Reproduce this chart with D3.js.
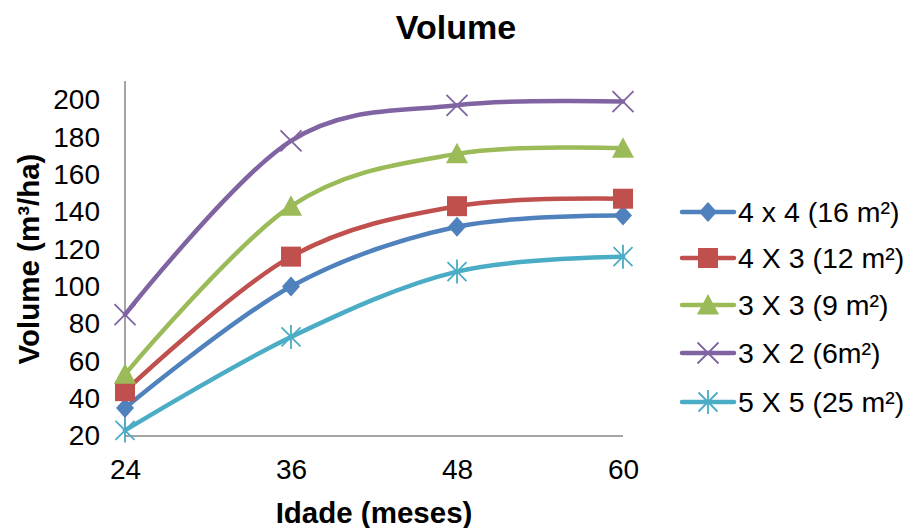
<!DOCTYPE html>
<html>
<head>
<meta charset="utf-8">
<script src="https://cdn.jsdelivr.net/npm/d3@7"></script>
<style>
  html, body { margin: 0; padding: 0; background: #fff; }
  svg { display: block; font-family: "Liberation Sans", Arial, sans-serif; }
</style>
</head>
<body>
<svg id="chart" width="913" height="528"></svg>
<script>
const categories = ["24", "36", "48", "60"];
const seriesNames = ["4 x 4 (16 m²)", "4 X 3 (12 m²)", "3 X 3 (9 m²)", "3 X 2 (6m²)", "5 X 5 (25 m²)"];
const s4x4 = [35, 100, 132, 138];
const s4x3 = [44, 116, 143, 147];
const s3x3 = [53, 143, 171, 174];
const s3x2 = [85, 178, 197, 199];
const s5x5 = [23, 73, 108, 116];
const yTicks = [20, 40, 60, 80, 100, 120, 140, 160, 180, 200];
const colors = ["#4F81BD", "#C0504D", "#9BBB59", "#8064A2", "#4BACC6"];
const markers = ["diamond", "square", "triangle", "x", "star"];

const series = [s4x4, s4x3, s3x3, s3x2, s5x5].map((v, i) => ({
  name: seriesNames[i], values: v, color: colors[i], marker: markers[i]
}));

const svg = d3.select("#chart");
const plot = { left: 125, right: 623, top: 81, bottom: 436 };

const x = d3.scalePoint().domain(categories).range([plot.left, plot.right]);
const y = d3.scaleLinear().domain([20, 210]).range([plot.bottom, plot.top]);

const axisColor = "#868686";
svg.append("line").attr("x1", plot.left).attr("x2", plot.left)
  .attr("y1", plot.top).attr("y2", plot.bottom)
  .attr("stroke", axisColor).attr("stroke-width", 1.5);
svg.append("line").attr("x1", plot.left).attr("x2", plot.right)
  .attr("y1", plot.bottom).attr("y2", plot.bottom)
  .attr("stroke", axisColor).attr("stroke-width", 1.5);

const yAxis = svg.append("g").attr("transform", `translate(${plot.left - 25},0)`)
  .call(d3.axisLeft(y).tickValues(yTicks).tickSize(0).tickPadding(0));
yAxis.select(".domain").remove();
yAxis.selectAll("text").attr("font-size", 28).attr("fill", "#000")
  .attr("font-family", "'Liberation Sans', Arial, sans-serif");

const xAxis = svg.append("g").attr("transform", `translate(0,${plot.bottom + 23})`)
  .call(d3.axisBottom(x).tickSize(0).tickPadding(0));
xAxis.select(".domain").remove();
xAxis.selectAll("text").attr("font-size", 28).attr("fill", "#000")
  .attr("font-family", "'Liberation Sans', Arial, sans-serif");

svg.append("text").attr("x", 456).attr("y", 39).attr("text-anchor", "middle")
  .attr("font-size", 34).attr("font-weight", "bold").text("Volume");

svg.append("text").attr("x", (plot.left + plot.right) / 2).attr("y", 523)
  .attr("text-anchor", "middle").attr("font-size", 29.5).attr("font-weight", "bold")
  .text("Idade (meses)");
svg.append("text").attr("transform", `translate(39,259) rotate(-90)`)
  .attr("text-anchor", "middle").attr("font-size", 29.5).attr("font-weight", "bold")
  .text("Volume (m³/ha)");

function drawMarker(g, type, color) {
  if (type === "diamond") {
    g.append("path").attr("d", "M0,-10L9,0L0,10L-9,0Z").attr("fill", color);
  } else if (type === "square") {
    g.append("rect").attr("x", -10).attr("y", -10).attr("width", 20).attr("height", 20).attr("fill", color);
  } else if (type === "triangle") {
    g.append("path").attr("d", "M0,-11L11,9.5L-11,9.5Z").attr("fill", color);
  } else if (type === "x") {
    g.append("path").attr("d", "M-10.5,-10.5L10.5,10.5M-10.5,10.5L10.5,-10.5")
      .attr("stroke", color).attr("stroke-width", 1.8).attr("fill", "none");
  } else if (type === "star") {
    g.append("path").attr("d", "M-9.5,-9.5L9.5,9.5M-9.5,9.5L9.5,-9.5M0,-12L0,12")
      .attr("stroke", color).attr("stroke-width", 1.8).attr("fill", "none");
  }
}

const line = d3.line()
  .x((d, i) => x(categories[i]))
  .y(d => y(d))
  .curve(d3.curveCardinal.tension(0));

series.forEach(s => {
  svg.append("path").attr("d", line(s.values))
    .attr("fill", "none").attr("stroke", s.color).attr("stroke-width", 4.5)
    .attr("stroke-linecap", "round").attr("stroke-linejoin", "round");
  s.values.forEach((v, i) => {
    const g = svg.append("g").attr("transform", `translate(${x(categories[i])},${y(v)})`);
    drawMarker(g, s.marker, s.color);
  });
});

const legendRows = [212, 258, 305, 353, 402];
series.forEach((s, i) => {
  const ly = legendRows[i];
  svg.append("line").attr("x1", 682).attr("x2", 734).attr("y1", ly).attr("y2", ly)
    .attr("stroke", s.color).attr("stroke-width", 4.5).attr("stroke-linecap", "round");
  const g = svg.append("g").attr("transform", `translate(708,${ly})`);
  drawMarker(g, s.marker, s.color);
  svg.append("text").attr("x", 738).attr("y", ly).attr("dy", "0.36em")
    .attr("font-size", 28.5).attr("fill", "#000").text(s.name);
});
</script>
</body>
</html>
